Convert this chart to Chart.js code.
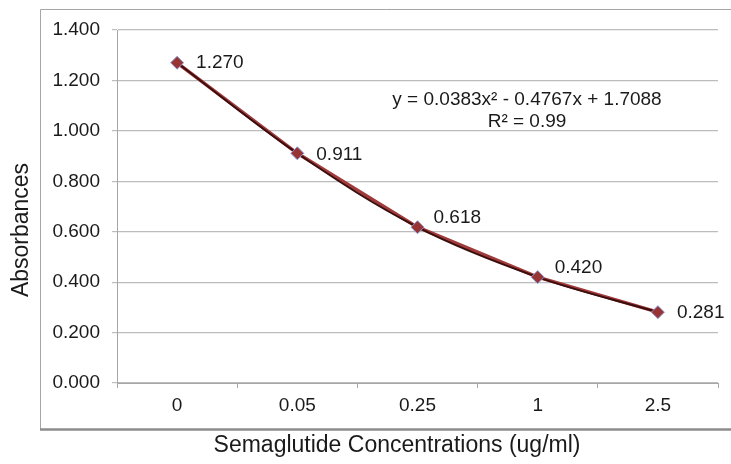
<!DOCTYPE html>
<html>
<head>
<meta charset="utf-8">
<script src="https://cdn.jsdelivr.net/npm/chart.js@4/dist/chart.umd.min.js"></script>
<style>
html,body{margin:0;padding:0;background:#fff;}
#wrap{width:731px;height:464px;position:relative;}
</style>
</head>
<body>
<div id="wrap"><canvas id="c" width="731" height="464"></canvas></div>
<script>
// ---- data ----
const categories = ['0', '0.05', '0.25', '1', '2.5'];
const absorbances = [1.270, 0.911, 0.618, 0.420, 0.281];
const valueLabels = ['1.270', '0.911', '0.618', '0.420', '0.281'];
const equationText = 'y = 0.0383x\u00B2 - 0.4767x + 1.7088';
const r2Text = 'R\u00B2 = 0.99';
const xTitle = 'Semaglutide Concentrations (ug/ml)';
const yTitle = 'Absorbances';
const yMin = 0, yMax = 1.4, yStep = 0.2;

// ---- style ----
const FONT = '"Liberation Sans", Arial, sans-serif';
const labelOffsets = [[19, 0], [19, 1], [16, -9], [17, -9], [19, 1]];

const decor = {
  id: 'decor',
  beforeDraw(chart) {
    const ctx = chart.ctx;
    ctx.save();
    ctx.fillStyle = '#fff';
    ctx.fillRect(0, 0, chart.width, chart.height);
    ctx.strokeStyle = '#a6a6a6';
    ctx.lineWidth = 1;
    ctx.beginPath();
    ctx.moveTo(40.5, 430);
    ctx.lineTo(40.5, 9.5);
    ctx.lineTo(740, 9.5);
    ctx.stroke();
    ctx.strokeStyle = '#8c8c8c';
    ctx.lineWidth = 2.5;
    ctx.beginPath();
    ctx.moveTo(40, 429.5);
    ctx.lineTo(740, 429.5);
    ctx.stroke();
    ctx.restore();
  },
  afterDatasetsDraw(chart) {
    const ctx = chart.ctx;
    const meta = chart.getDatasetMeta(2);
    ctx.save();
    ctx.fillStyle = '#1a1a1a';
    ctx.font = '19px ' + FONT;
    ctx.textAlign = 'left';
    ctx.textBaseline = 'middle';
    meta.data.forEach((pt, i) => {
      const o = labelOffsets[i];
      ctx.fillText(valueLabels[i], pt.x + o[0], pt.y + o[1]);
    });
    // trendline equation
    ctx.textAlign = 'center';
    ctx.font = '19px ' + FONT;
    ctx.fillText(equationText, 527, 100);
    ctx.fillText(r2Text, 527, 122);
    // axis titles
    ctx.font = '23px ' + FONT;
    ctx.fillText(xTitle, 397, 446);
    ctx.translate(22, 230);
    ctx.rotate(-Math.PI / 2);
    ctx.fillText(yTitle, 0, 0);
    ctx.restore();
  }
};

new Chart(document.getElementById('c'), {
  type: 'line',
  data: {
    labels: categories,
    datasets: [
      { data: absorbances, borderColor: '#a13a3a', borderWidth: 3.5, pointRadius: 0, tension: 0, fill: false, order: 3 },
      { data: absorbances, borderColor: '#3a0e0e', borderWidth: 2, pointRadius: 0, tension: 0.35, fill: false, order: 2 },
      { data: absorbances, showLine: false, pointStyle: 'rectRot', pointRadius: 6.5,
        pointBackgroundColor: '#983434', pointBorderColor: '#8d9bd6', pointBorderWidth: 1, order: 1 }
    ]
  },
  options: {
    responsive: false,
    animation: false,
    devicePixelRatio: 1,
    layout: { padding: { left: 0, top: 30, right: 13, bottom: 0 } },
    plugins: { legend: { display: false }, tooltip: { enabled: false } },
    scales: {
      x: {
        type: 'category',
        offset: true,
        grid: { offset: true, drawOnChartArea: false, drawTicks: true, tickLength: 5, color: '#a6a6a6' },
        border: { color: '#a6a6a6', width: 1 },
        ticks: { color: '#1a1a1a', font: { family: FONT, size: 19 }, padding: 6, maxRotation: 0 },
        afterFit(s) { s.height = 81; }
      },
      y: {
        min: yMin, max: yMax,
        grid: { color: '#bcbcbc', lineWidth: 1.2, tickLength: 5, drawTicks: true },
        border: { color: '#a6a6a6', width: 1 },
        ticks: { stepSize: yStep, color: '#1a1a1a', font: { family: FONT, size: 19 }, padding: 12,
          callback: v => Number(v).toFixed(3) },
        afterFit(s) { s.width = 117; }
      }
    }
  },
  plugins: [decor]
});
</script>
</body>
</html>
